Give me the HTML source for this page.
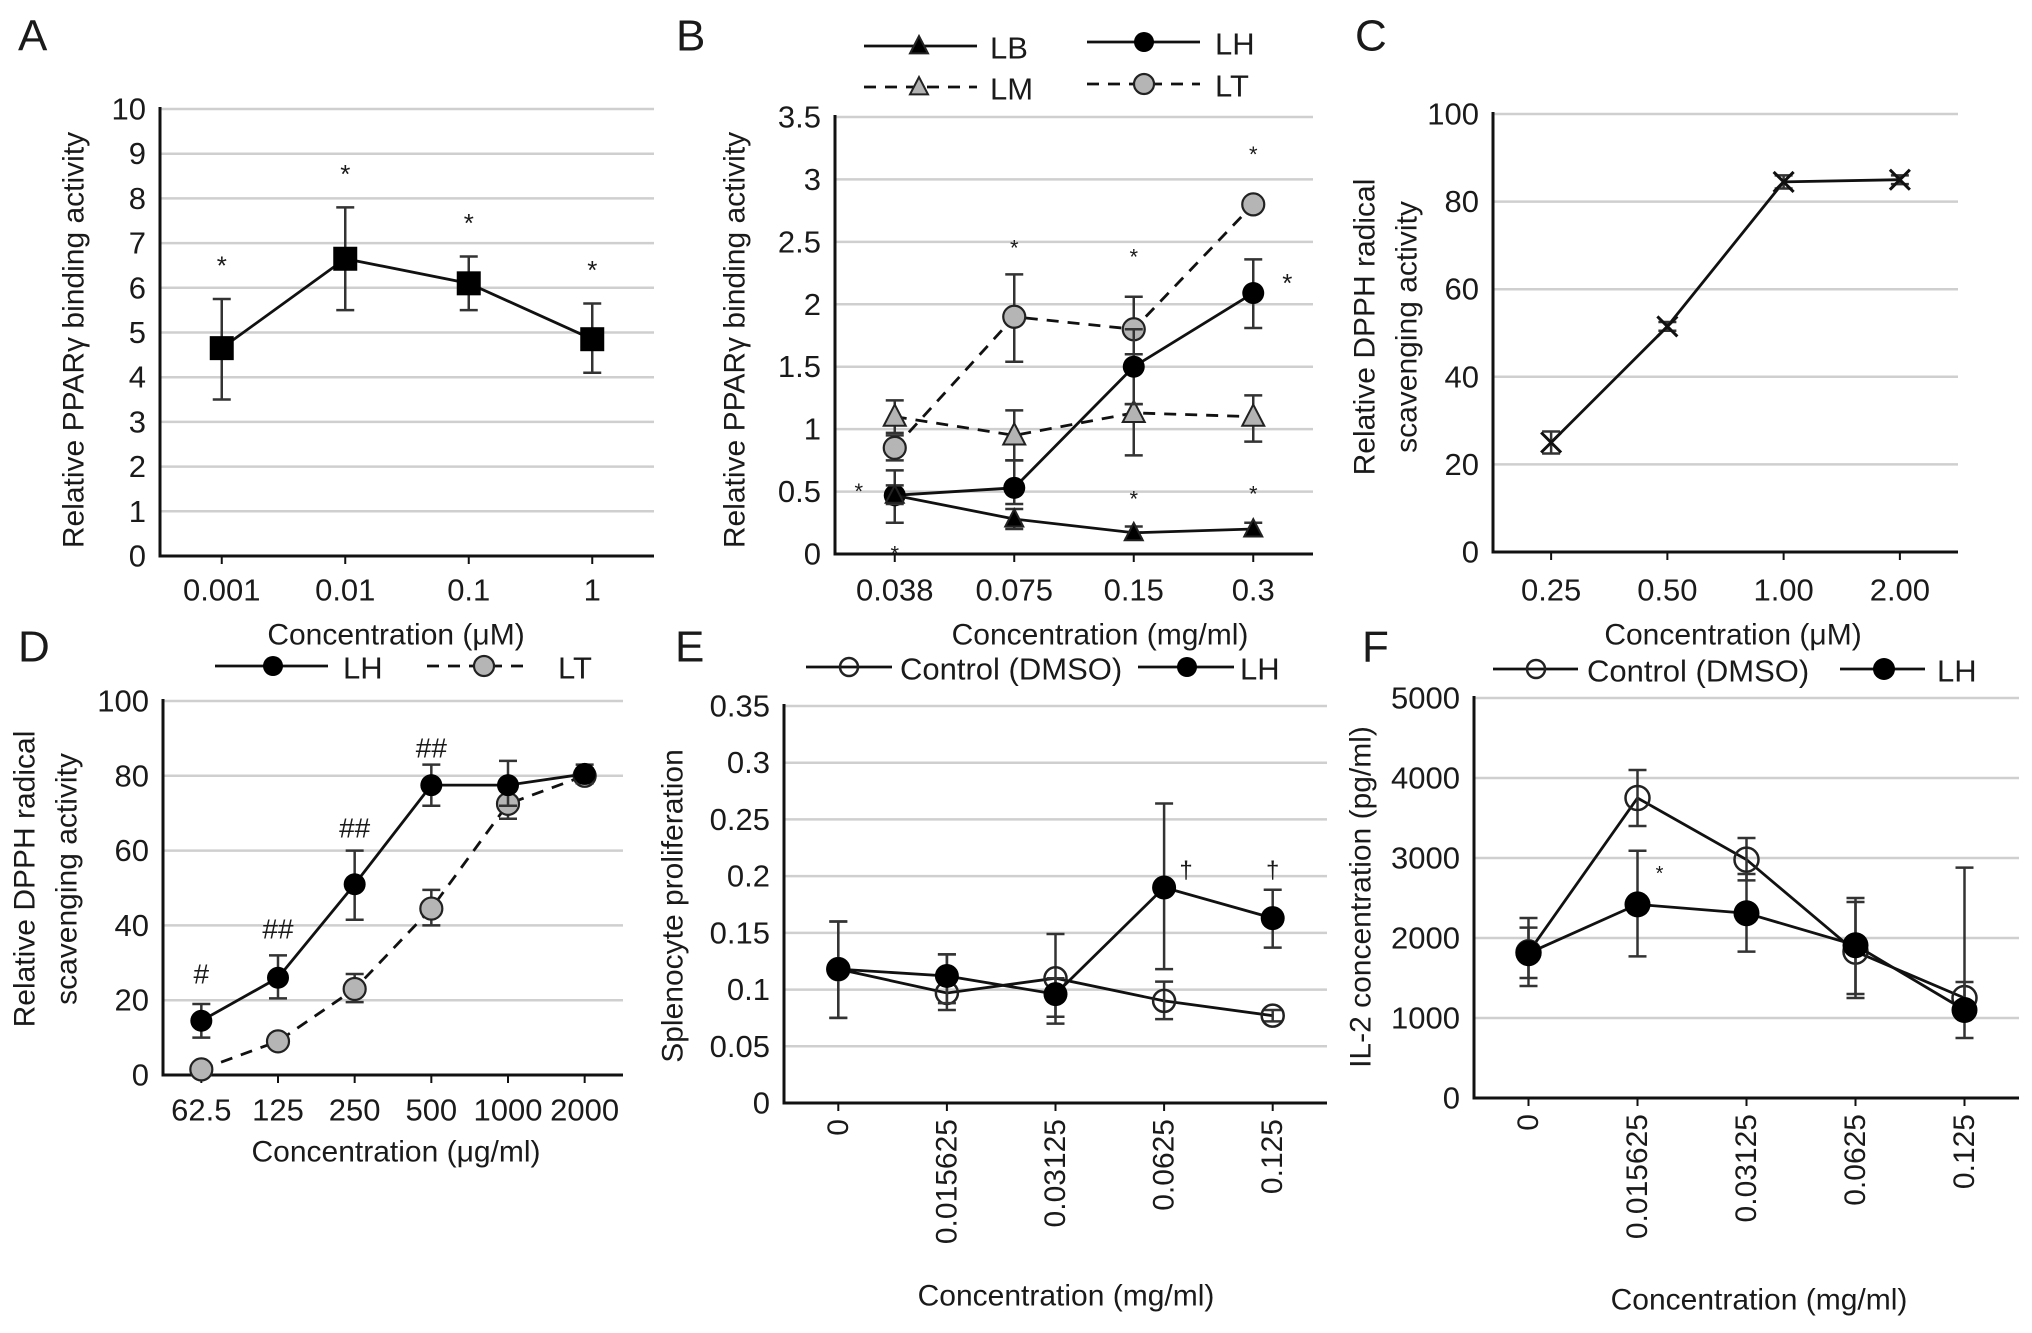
<!DOCTYPE html>
<html><head><meta charset="utf-8"><style>
html,body{margin:0;padding:0;background:#fff}
svg{display:block}
text{font-family:"Liberation Sans",Arial,sans-serif;fill:#1a1a1a}
</style></head><body>
<svg id="fig" width="2032" height="1333" viewBox="0 0 2032 1333" xmlns="http://www.w3.org/2000/svg"></svg>
<script>
// ---- Data ----
const catsA=["0.001","0.01","0.1","1"];
const valA=[4.65,6.65,6.1,4.85];
const hiA=[5.75,7.8,6.7,5.65];
const loA=[3.5,5.5,5.5,4.1];
const ticksA=[0,1,2,3,4,5,6,7,8,9,10];

const catsB=["0.038","0.075","0.15","0.3"];
const lbB=[0.47,0.28,0.17,0.2];
const lbHiB=[0.55,0.36,0.22,0.25];
const lbLoB=[0.4,0.2,0.12,0.15];
const lhB=[0.47,0.53,1.5,2.09];
const lhHiB=[0.67,0.75,1.8,2.36];
const lhLoB=[0.25,0.4,1.2,1.81];
const lmB=[1.1,0.95,1.13,1.1];
const lmHiB=[1.23,1.15,1.2,1.27];
const lmLoB=[0.97,0.75,0.79,0.9];
const ltB=[0.85,1.9,1.8,2.8];
const ltHiB=[0.95,2.24,2.06,2.85];
const ltLoB=[0.75,1.54,1.6,2.75];
const ticksB=[0,0.5,1,1.5,2,2.5,3,3.5];

const catsC=["0.25","0.50","1.00","2.00"];
const valC=[25,51.5,84.5,85];
const hiC=[27.5,52.5,86,86];
const loC=[22.5,50.5,83,84];
const ticksC=[0,20,40,60,80,100];

const catsD=["62.5","125","250","500","1000","2000"];
const lhD=[14.5,26,51,77.5,77.5,80.5];
const lhHiD=[19,32,60,83,84,83];
const lhLoD=[10,20.5,41.5,72,72,78];
const ltD=[1.5,9,23,44.5,72.5,80];
const ltHiD=[2.5,10,27,49.5,76.5,82];
const ltLoD=[0.5,8,19.5,40,68.5,78];
const ticksD=[0,20,40,60,80,100];

const catsE=["0","0.015625","0.03125","0.0625","0.125"];
const ctlE=[0.118,0.097,0.11,0.09,0.077];
const ctlHiE=[0.16,0.131,0.149,0.107,0.082];
const ctlLoE=[0.075,0.082,0.07,0.074,0.072];
const lhE=[0.118,0.112,0.096,0.19,0.163];
const lhHiE=[0.16,0.131,0.11,0.264,0.188];
const lhLoE=[0.075,0.088,0.076,0.118,0.137];
const ticksE=[0,0.05,0.1,0.15,0.2,0.25,0.3,0.35];

const catsF=["0","0.015625","0.03125","0.0625","0.125"];
const ctlF=[1820,3750,2980,1830,1250];
const ctlHiF=[2250,4100,3250,2500,1450];
const ctlLoF=[1400,3400,2720,1250,1000];
const lhF=[1810,2420,2310,1910,1100];
const lhHiF=[2130,3090,2800,2450,2880];
const lhLoF=[1500,1770,1830,1300,750];
const ticksF=[0,1000,2000,3000,4000,5000];

const NS="http://www.w3.org/2000/svg";
const svg=document.getElementById('fig');
function mk(tag,attrs,parent,txt){const e=document.createElementNS(NS,tag);for(const k in attrs)e.setAttribute(k,attrs[k]);if(txt!==undefined)e.textContent=txt;(parent||svg).appendChild(e);return e;}

function axes(p){
  const g=mk('g',{});
  
  
  const n=p.cats.length,w=(p.x1-p.x0)/n;
  p.xs=i=>p.x0+w*(i+0.5);
  p.ys=v=>p.yb-(v-p.ymin)/(p.ymax-p.ymin)*(p.yb-p.yt);
  p.ticks.forEach((t,i)=>{
    if(t!==p.ymin){const l=mk('line',{x1:p.x0,x2:p.x1,y1:p.ys(t),y2:p.ys(t),stroke:'#cfcfcf','stroke-width':2.5},g);
      }
    const tl=mk('text',{x:p.x0-14,y:p.ys(t),'text-anchor':'end','dominant-baseline':'central','font-size':31},g,String(t));
    
  });
  mk('line',{x1:p.x0,x2:p.x0,y1:p.yt-2,y2:p.yb+1.5,stroke:'#111','stroke-width':3},g);
  mk('line',{x1:p.x0,x2:p.x1,y1:p.yb,y2:p.yb,stroke:'#111','stroke-width':3},g);
  p.cats.forEach((c,i)=>{
    mk('line',{x1:p.xs(i),x2:p.xs(i),y1:p.yb,y2:p.yb+8,stroke:'#111','stroke-width':2},g);
    let t;
    if(p.rot){t=mk('text',{x:0,y:0,transform:`translate(${p.xs(i)},${p.yb+16}) rotate(-90)`,'text-anchor':'end','dominant-baseline':'central','font-size':30},g,c);}
    else t=mk('text',{x:p.xs(i),y:p.xlabY,'text-anchor':'middle','dominant-baseline':'central','font-size':31},g,c);
    
  });
  const xt=mk('text',{x:p.xtX,y:p.xtY,'text-anchor':'middle','dominant-baseline':'central','font-size':30},g,p.xtitle);
  
  p.ytitle.forEach((s,k)=>{
    const yt=mk('text',{x:0,y:0,transform:`translate(${p.ytX[k]},${p.ytY}) rotate(-90)`,'text-anchor':'middle','dominant-baseline':'central','font-size':30},g,s);
    
  });
  const L=mk('text',{x:p.letter[1],y:p.letter[2],'dominant-baseline':'central','font-size':44},g,p.letter[0]);
  
  p.g=g;return p;
}
function marker(g,type,x,y,s){
  let e;
  if(type==='square')e=mk('rect',{x:x-s,y:y-s,width:2*s,height:2*s,fill:'#000'},g);
  else if(type==='tri'||type==='trig'){const h=s*1.1;e=mk('polygon',{points:`${x},${y-h} ${x+s},${y+h*0.75} ${x-s},${y+h*0.75}`,fill:type==='tri'?'#000':'#b3b3b3',stroke:'#222','stroke-width':2},g);}
  else if(type==='dot')e=mk('circle',{cx:x,cy:y,r:s,fill:'#000'},g);
  else if(type==='gray')e=mk('circle',{cx:x,cy:y,r:s,fill:'#b5b5b5',stroke:'#222','stroke-width':2.2},g);
  else if(type==='open')e=mk('circle',{cx:x,cy:y,r:s,fill:'none',stroke:'#222','stroke-width':2.5},g);
  else if(type==='x'){e=mk('path',{d:`M${x-s},${y-s}L${x+s},${y+s}M${x-s},${y+s}L${x+s},${y-s}`,stroke:'#111','stroke-width':3,fill:'none'},g);}
  return e;
}
function series(p,name,vals,hi,lo,type,size,dash,sw){
  const g=mk('g',{},p.g);
  
  const d=vals.map((v,i)=>(i?'L':'M')+p.xs(i)+','+p.ys(v)).join('');
  const pl=mk('path',{d:d,fill:'none',stroke:'#111','stroke-width':sw||2.8,'stroke-dasharray':dash||'none'},g);
  
  vals.forEach((v,i)=>{
    const x=p.xs(i);
    if(hi){const eb=mk('path',{d:`M${x},${p.ys(hi[i])}L${x},${p.ys(lo[i])}M${x-9},${p.ys(hi[i])}L${x+9},${p.ys(hi[i])}M${x-9},${p.ys(lo[i])}L${x+9},${p.ys(lo[i])}`,stroke:'#333','stroke-width':2.5,fill:'none'},g);
      }
    const m=marker(g,type,x,p.ys(v),size);
    
  });
}
function ann(p,txt,i,v,dx,fs){const t=mk('text',{x:p.xs(i)+(dx||0),y:p.ys(v),'text-anchor':'middle','dominant-baseline':'central','font-size':fs||26},p.g,txt);
  }
function legend(x1,x2,y,mx,type,size,dash,label,tx){
  const g=mk('g',{});
  
  mk('line',{x1:x1,x2:x2,y1:y,y2:y,stroke:'#111','stroke-width':2.8,'stroke-dasharray':dash||'none'},g);
  marker(g,type,mx,y,size);
  mk('text',{x:tx,y:y+2,'dominant-baseline':'central','font-size':31},g,label);
}

const A=axes({name:'panel-a',cats:catsA,ticks:ticksA,x0:160,x1:654,yt:109,yb:556,ymin:0,ymax:10,xlabY:590,
  xtitle:'Concentration (μM)',xtX:396,xtY:635,ytitle:['Relative PPARγ binding activity'],ytX:[74],ytY:340,letter:['A',18,36]});
series(A,'series-a',valA,hiA,loA,'square',12);
[0,1,2,3].forEach(i=>ann(A,'*',i,hiA[i]+0.75));

const B=axes({name:'panel-b',cats:catsB,ticks:ticksB,x0:835,x1:1313,yt:117,yb:554,ymin:0,ymax:3.5,xlabY:590,
  xtitle:'Concentration (mg/ml)',xtX:1100,xtY:635,ytitle:['Relative PPARγ binding activity'],ytX:[735],ytY:340,letter:['B',676,36]});
series(B,'series-lt',ltB,ltHiB,ltLoB,'gray',11,'12,9');
series(B,'series-lm',lmB,lmHiB,lmLoB,'trig',11,'12,9');
series(B,'series-lh',lhB,lhHiB,lhLoB,'dot',11);
series(B,'series-lb',lbB,lbHiB,lbLoB,'tri',9);
ann(B,'*',0,0.5,-36,22);ann(B,'*',0,0.0,0,22);
ann(B,'*',1,2.45,0,22);ann(B,'*',2,2.38,0,22);ann(B,'*',3,3.2,0,22);ann(B,'*',3,2.17,34,26);
ann(B,'*',2,0.44,0,22);ann(B,'*',3,0.48,0,22);
legend(864,977,46,919,'tri',9,null,'LB',990);
legend(1087,1200,42,1144,'dot',10,null,'LH',1215);
legend(864,977,87,919,'trig',9,'12,9','LM',990);
legend(1087,1200,84,1144,'gray',10,'12,9','LT',1215);

const C=axes({name:'panel-c',cats:catsC,ticks:ticksC,x0:1493,x1:1958,yt:114,yb:552,ymin:0,ymax:100,xlabY:590,
  xtitle:'Concentration (μM)',xtX:1733,xtY:635,ytitle:['Relative DPPH radical','scavenging activity'],ytX:[1365,1407],ytY:327,letter:['C',1355,36]});
series(C,'series-c',valC,hiC,loC,'x',10);

const D=axes({name:'panel-d',cats:catsD,ticks:ticksD,x0:163,x1:623,yt:701,yb:1075,ymin:0,ymax:100,xlabY:1110,
  xtitle:'Concentration (μg/ml)',xtX:396,xtY:1152,ytitle:['Relative DPPH radical','scavenging activity'],ytX:[25,67],ytY:879,letter:['D',18,647]});
series(D,'series-lt',ltD,ltHiD,ltLoD,'gray',11,'12,9');
series(D,'series-lh',lhD,lhHiD,lhLoD,'dot',11);
ann(D,'#',0,27,0,28);ann(D,'##',1,39,0,28);ann(D,'##',2,66,0,28);ann(D,'##',3,87.5,0,28);
legend(215,328,666,273,'dot',10,null,'LH',343);
legend(427,528,666,484,'gray',10,'12,9','LT',558);

const E=axes({name:'panel-e',cats:catsE,ticks:ticksE,x0:784,x1:1327,yt:706,yb:1103,ymin:0,ymax:0.35,rot:true,
  xtitle:'Concentration (mg/ml)',xtX:1066,xtY:1296,ytitle:['Splenocyte proliferation'],ytX:[673],ytY:906,letter:['E',675,647]});
series(E,'series-control',ctlE,ctlHiE,ctlLoE,'open',11);
series(E,'series-lh',lhE,lhHiE,lhLoE,'dot',12);
ann(E,'†',3,0.205,22,24);ann(E,'†',4,0.205,0,24);
legend(806,892,667,849,'open',9,null,'Control (DMSO)',900);
legend(1138,1234,667,1187,'dot',10,null,'LH',1240);

const F=axes({name:'panel-f',cats:catsF,ticks:ticksF,x0:1474,x1:2019,yt:698,yb:1098,ymin:0,ymax:5000,rot:true,
  xtitle:'Concentration (mg/ml)',xtX:1759,xtY:1300,ytitle:['IL-2 concentration (pg/ml)'],ytX:[1361],ytY:897,letter:['F',1362,647]});
series(F,'series-control',ctlF,ctlHiF,ctlLoF,'open',12);
series(F,'series-lh',lhF,lhHiF,lhLoF,'dot',13);
ann(F,'*',1,2800,22,20);
legend(1493,1578,669,1536,'open',9,null,'Control (DMSO)',1587);
legend(1840,1925,669,1884,'dot',11,null,'LH',1937);
</script>
</body></html>
